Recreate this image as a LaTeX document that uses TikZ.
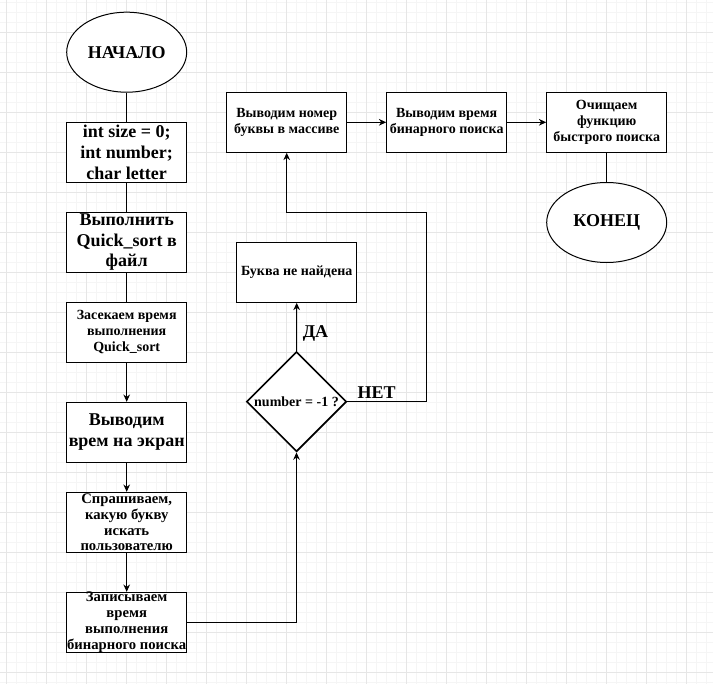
\documentclass[tikz,border=0pt]{standalone}
\usepackage{fontspec}
\setmainfont{Liberation Serif}
\usepackage{tikz}
\usetikzlibrary{positioning}
\usetikzlibrary{arrows.meta}
\usetikzlibrary{shapes.geometric}
\definecolor{gridmajor}{HTML}{E6E6E6}
\definecolor{gridminor}{HTML}{F5F5F5}
\newcommand{\txtL}{\fontsize{13.5pt}{15.5pt}\selectfont\bfseries}
\newcommand{\txtM}{\fontsize{11pt}{11.9pt}\selectfont\bfseries}
\newcommand{\txtS}{\fontsize{10.5pt}{12.3pt}\selectfont\bfseries}

\begin{document}
\begin{tikzpicture}[x=0.75pt,y=-0.75pt]
        \tikzstyle{block}=[draw, rectangle, fill=white, line width=0.75pt,
            minimum width=90pt, minimum height=45pt, inner sep=0pt, align=center]
        \tikzstyle{term}=[draw, ellipse, fill=white, line width=0.75pt,
            minimum width=90pt, minimum height=60pt, inner sep=0pt, font=\txtL]
        \tikzstyle{cond}=[draw, diamond, fill=white, line width=1.2pt,
            minimum width=75pt, minimum height=75pt, inner sep=0pt]
        \tikzstyle{flow}=[line width=0.75pt]
        \tikzstyle{arr}=[flow, -{Stealth[length=5.5pt, width=5pt]}]

        \useasboundingbox (0,0) rectangle (713,684);
        \fill[white] (0,0) rectangle (713,684);
        \foreach \gx in {6.7,16.7,...,713}
            \draw[gridminor, line width=0.75pt] (\gx,0) -- (\gx,684);
        \foreach \gy in {2.3,12.3,...,684}
            \draw[gridminor, line width=0.75pt] (0,\gy) -- (713,\gy);
        \foreach \gx in {6.7,46.7,...,713}
            \draw[gridmajor, line width=0.75pt] (\gx,0) -- (\gx,684);
        \foreach \gy in {32.3,72.3,...,684}
            \draw[gridmajor, line width=0.75pt] (0,\gy) -- (713,\gy);

            \node[term] (start) at (126.7,52.2) {НАЧАЛО};
            \node[block, font=\txtL] (vars) at (126.7,152.5) {int size = 0;\\int number;\\char letter};
            \node[block, font=\txtL] (sort) at (126.7,242.3) {Выполнить\\Quick\_sort в\\файл};
            \node[block, font=\txtS] (tqs) at (126.7,332) {Засекаем время\\выполнения\\Quick\_sort};
            \node[block, font=\txtL] (showq) at (126.7,432.3) {Выводим\\врем на экран};
            \node[block] (ask) at (126.7,522.3) {};
            \node[align=center, font=\txtM] (askt) at (ask) {Спрашиваем,\\какую букву\\искать\\пользователю};
            \node[block] (tbin) at (126.7,622.3) {};
            \node[align=center, font=\txtM] (tbint) at (tbin) {Записываем\\время\\выполнения\\бинарного поиска};

            \node[cond] (dec) at (296.5,401.7) {};
            \node[font=\txtS] (dect) at (dec) {number = -1 ?};
            \node[block, font=\txtS] (nf) at (296.7,272.3) {Буква не найдена};

            \node[block, font=\txtS] (idx) at (286.7,122.3) {Выводим номер\\буквы в массиве};
            \node[block, font=\txtS] (tout) at (446.7,122.3) {Выводим время\\бинарного поиска};
            \node[block, font=\txtS] (clr) at (606.7,122.3) {Очищаем\\функцию\\быстрого поиска};
            \node[term] (end) at (606.7,222.5) {КОНЕЦ};

            \coordinate (turn) at (426.7,212.3);

            \draw[flow] (start) -- (vars);
            \draw[flow] (vars) -- (sort);
            \draw[flow] (sort) -- (tqs);
            \draw[arr] (tqs) -- (showq);
            \draw[arr] (showq) -- (ask);
            \draw[arr] (ask) -- (tbin);
            \draw[arr] (tbin.east) -| (dec.south);
            \draw[arr] (dec.north) -- (nf.south);
            \draw[arr] (dec.east) -| (turn) -| (idx.south);
            \draw[arr] (idx) -- (tout);
            \draw[arr] (tout) -- (clr);
            \draw[flow] (clr) -- (end);

            \node[font=\txtL] (yes) at (315.5,333) {ДА};
            \node[font=\txtL] (no) at (376.7,393) {НЕТ};
        \end{tikzpicture}
\end{document}
